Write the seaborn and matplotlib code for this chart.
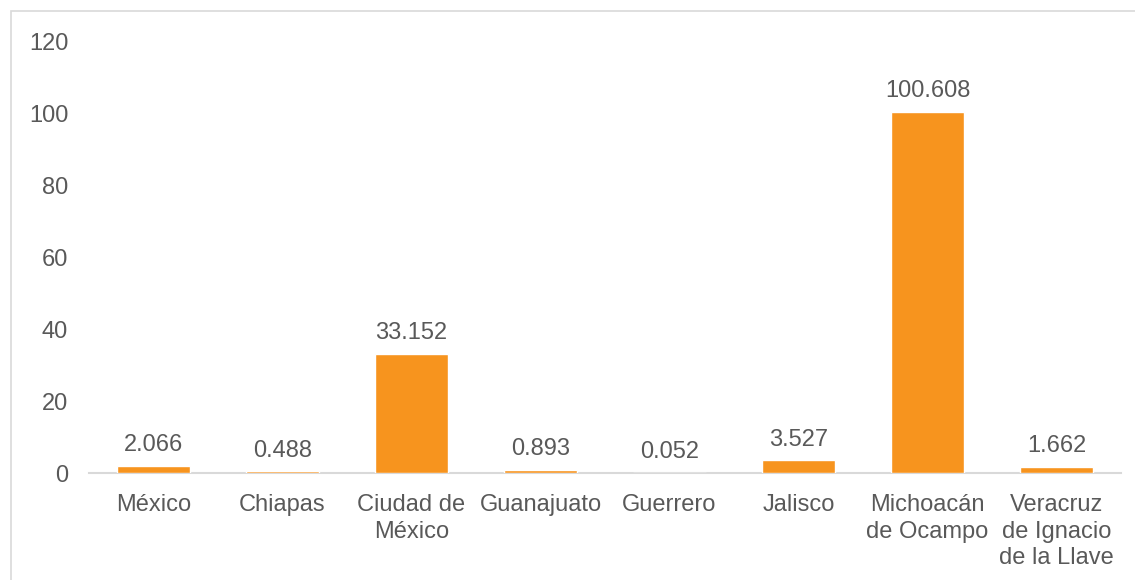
import matplotlib
matplotlib.use("Agg")
import matplotlib.pyplot as plt
import seaborn as sns
import pandas as pd
from matplotlib.patches import Rectangle

estados = ["México", "Chiapas", "Ciudad de\nMéxico", "Guanajuato", "Guerrero",
           "Jalisco", "Michoacán\nde Ocampo", "Veracruz\nde Ignacio\nde la Llave"]
valores = [2.066, 0.488, 33.152, 0.893, 0.052, 3.527, 100.608, 1.662]
y_ticks = [0, 20, 40, 60, 80, 100, 120]

df = pd.DataFrame({"Estado": estados, "Valor": valores})

sns.set_style("white")
plt.rcParams["font.family"] = ["Liberation Sans", "DejaVu Sans"]

gris = "#595959"
naranja = "#F7941E"
fs = 17

fig = plt.figure(figsize=(11.35, 5.8), dpi=100)
ax = fig.add_axes([89 / 1135, 1 - 473 / 580, 1032 / 1135, 431 / 580])

sns.barplot(data=df, x="Estado", y="Valor", color=naranja, width=0.57,
            saturation=1, ax=ax, zorder=3)

for c in ax.containers:
    ax.bar_label(c, labels=[f"{v:.3f}" for v in valores], padding=7,
                 fontsize=fs, color=gris)

ax.set_ylim(0, 120)
ax.set_yticks(y_ticks)
ax.set_xlim(-0.5, len(estados) - 0.5)
ax.set_xlabel("")
ax.set_ylabel("")
ax.tick_params(axis="both", length=0, labelsize=fs, colors=gris)
ax.tick_params(axis="y", pad=15)
ax.tick_params(axis="x", pad=15)
for lbl in ax.get_xticklabels():
    lbl.set_linespacing(1.28)

for s in ["top", "right", "left"]:
    ax.spines[s].set_visible(False)
ax.spines["bottom"].set_color("#D9D9D9")
ax.spines["bottom"].set_linewidth(1.5)
ax.spines["bottom"].set_zorder(1)

fig.patches.append(Rectangle((11 / 1135, -0.05), 1.2, 1 - 11 / 580 + 0.05,
                             transform=fig.transFigure, fill=False,
                             edgecolor="#D9D9D9", linewidth=1.2))

fig.savefig("out.png", dpi=100)
